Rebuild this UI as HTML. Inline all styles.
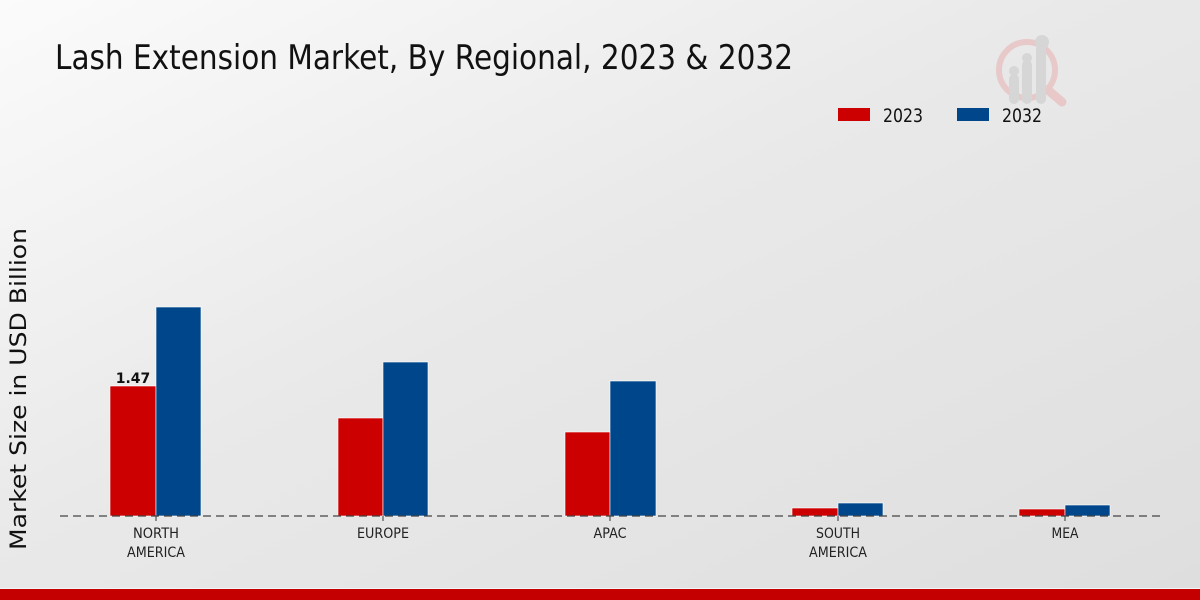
<!DOCTYPE html>
<html><head><meta charset="utf-8"><style>
html,body{margin:0;padding:0;width:1200px;height:600px;overflow:hidden}
svg{display:block}
text{font-family:"DejaVu Sans","Liberation Sans",sans-serif}
</style></head><body>
<svg width="1200" height="600" viewBox="0 0 1200 600" xmlns="http://www.w3.org/2000/svg">
<defs>
<linearGradient id="bg" x1="0" y1="0" x2="1" y2="1">
<stop offset="0" stop-color="#fbfbfb"/>
<stop offset="0.45" stop-color="#e9e9e9"/>
<stop offset="1" stop-color="#dedede"/>
</linearGradient>
</defs>
<rect width="1200" height="600" fill="url(#bg)"/>
<!-- watermark logo -->
<g opacity="0.55">
<circle cx="1027" cy="70" r="28" fill="none" stroke="#e8b0b0" stroke-width="6"/>
<line x1="1048" y1="90" x2="1062" y2="102" stroke="#e8b0b0" stroke-width="9" stroke-linecap="round"/>
<rect x="1009" y="74" width="10" height="30" rx="5" fill="#c8c8c8"/>
<rect x="1022" y="60" width="10" height="44" rx="5" fill="#c8c8c8"/>
<rect x="1036" y="44" width="10" height="60" rx="5" fill="#c8c8c8"/>
<circle cx="1014" cy="71" r="5" fill="#c8c8c8"/>
<circle cx="1027" cy="58" r="5" fill="#c8c8c8"/>
<circle cx="1042" cy="42" r="7" fill="#c8c8c8"/>
</g>
<!-- title -->
<text x="55" y="69" font-size="34" fill="#111" textLength="738" lengthAdjust="spacingAndGlyphs">Lash Extension Market, By Regional, 2023 &amp; 2032</text>
<!-- legend -->
<rect x="838" y="108" width="32" height="13" fill="#cc0000"/>
<text x="883" y="122" font-size="19" fill="#111" textLength="40" lengthAdjust="spacingAndGlyphs">2023</text>
<rect x="957" y="108" width="32" height="13" fill="#00468b"/>
<text x="1002" y="122" font-size="19" fill="#111" textLength="40" lengthAdjust="spacingAndGlyphs">2032</text>
<!-- y label -->
<text transform="translate(26,389) rotate(-90)" text-anchor="middle" font-size="22" fill="#111" textLength="322" lengthAdjust="spacingAndGlyphs">Market Size in USD Billion</text>
<!-- bars -->
<g stroke="#ffffff" stroke-width="0.6">
<rect x="110" y="386" width="46" height="130" fill="#cc0000"/>
<rect x="156" y="307" width="45" height="209" fill="#00468b"/>
<rect x="338" y="418" width="45" height="98" fill="#cc0000"/>
<rect x="383" y="362" width="45" height="154" fill="#00468b"/>
<rect x="565" y="432" width="45" height="84" fill="#cc0000"/>
<rect x="610" y="381" width="46" height="135" fill="#00468b"/>
<rect x="792" y="508" width="46" height="8" fill="#cc0000"/>
<rect x="838" y="503" width="45" height="13" fill="#00468b"/>
<rect x="1019" y="509" width="46" height="7" fill="#cc0000"/>
<rect x="1065" y="505" width="45" height="11" fill="#00468b"/>
</g>
<!-- baseline -->
<line x1="60" y1="516" x2="1160" y2="516" stroke="#444" stroke-width="1.2" stroke-dasharray="8,5"/>
<g stroke="#333" stroke-width="1">
<line x1="156" y1="516" x2="156" y2="521"/>
<line x1="383" y1="516" x2="383" y2="521"/>
<line x1="610" y1="516" x2="610" y2="521"/>
<line x1="838" y1="516" x2="838" y2="521"/>
<line x1="1065" y1="516" x2="1065" y2="521"/>
</g>
<!-- value label -->
<text x="133" y="383" text-anchor="middle" font-size="14" font-weight="bold" fill="#111">1.47</text>
<!-- x labels -->
<g font-size="14" fill="#222" text-anchor="middle">
<text x="156" y="538" textLength="46" lengthAdjust="spacingAndGlyphs">NORTH</text>
<text x="156" y="557" textLength="58" lengthAdjust="spacingAndGlyphs">AMERICA</text>
<text x="383" y="538" textLength="52" lengthAdjust="spacingAndGlyphs">EUROPE</text>
<text x="610" y="538" textLength="33" lengthAdjust="spacingAndGlyphs">APAC</text>
<text x="838" y="538" textLength="44" lengthAdjust="spacingAndGlyphs">SOUTH</text>
<text x="838" y="557" textLength="58" lengthAdjust="spacingAndGlyphs">AMERICA</text>
<text x="1065" y="538" textLength="27" lengthAdjust="spacingAndGlyphs">MEA</text>
</g>
<!-- bottom band -->
<rect x="0" y="588" width="1200" height="1" fill="#f4f4f4"/>
<rect x="0" y="589" width="1200" height="11" fill="#c40000"/>
</svg>
</body></html>
